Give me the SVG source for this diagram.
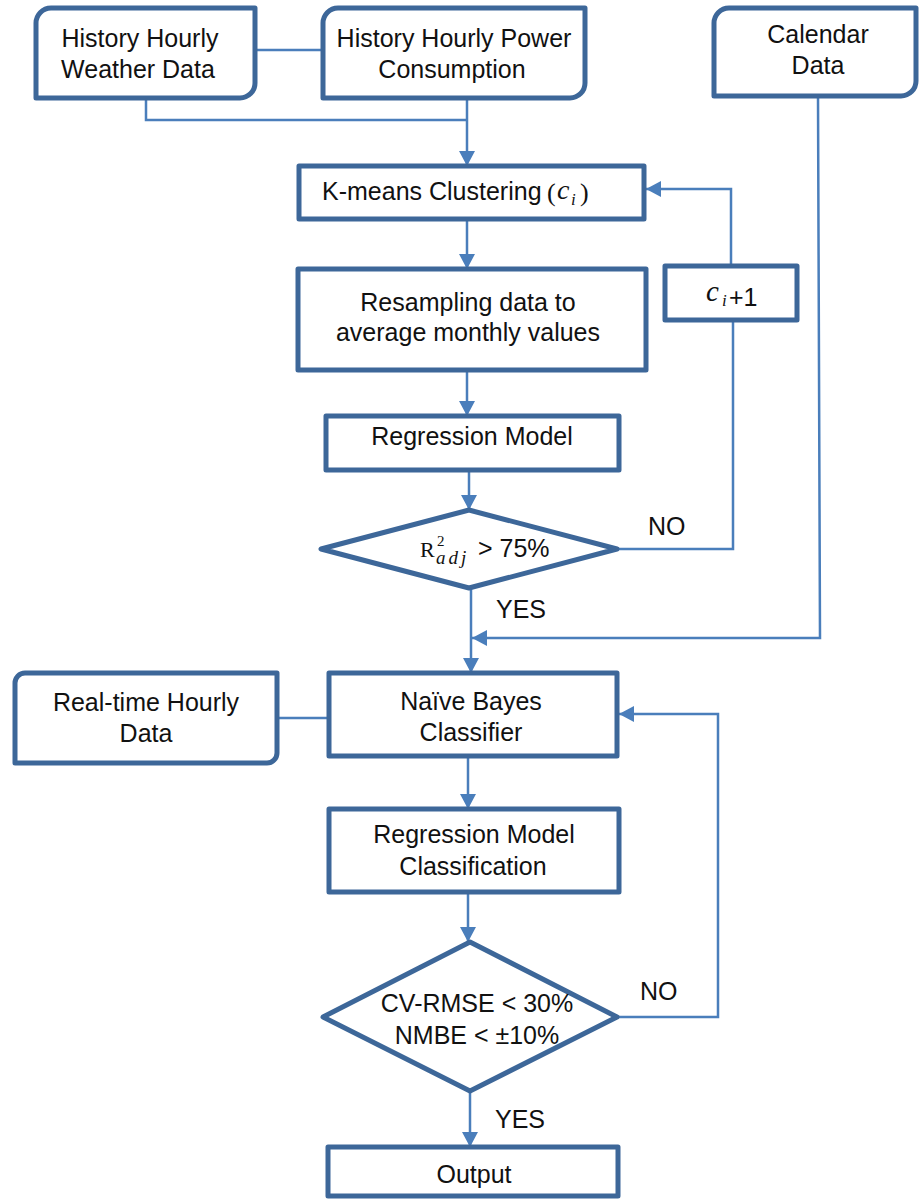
<svg xmlns="http://www.w3.org/2000/svg" width="920" height="1199" viewBox="0 0 920 1199">
<style>
.box{fill:#fff;stroke:#3D6799;stroke-width:5;stroke-linejoin:round}
.conn{fill:none;stroke:#4A7EBB;stroke-width:2.5}
.t{font-family:"Liberation Sans",Arial,sans-serif;font-size:25px;fill:#111;text-anchor:middle}
.l{font-family:"Liberation Sans",Arial,sans-serif;font-size:25px;fill:#111}
.m{font-family:"Liberation Serif","DejaVu Serif",serif;fill:#111}
</style>
<defs>
<marker id="ah" markerUnits="userSpaceOnUse" markerWidth="16" markerHeight="16" refX="15" refY="8" orient="auto">
<path d="M0,0 L15,8 L0,16 Z" fill="#4A7EBB"/>
</marker>
</defs>
<rect width="920" height="1199" fill="#fff"/>
<g id="connectors">
<path class="conn" d="M255 50 H323"/>
<path class="conn" d="M146 98 V120 H467"/>
<path class="conn" d="M467 98 V166" marker-end="url(#ah)"/>
<path class="conn" d="M467 220 V269" marker-end="url(#ah)"/>
<path class="conn" d="M467 370 V416" marker-end="url(#ah)"/>
<path class="conn" d="M469 470 V510" marker-end="url(#ah)"/>
<path class="conn" d="M471 588 V673" marker-end="url(#ah)"/>
<path class="conn" d="M818 96 L820 638 H472" marker-end="url(#ah)"/>
<path class="conn" d="M617 549 H733 V321"/>
<path class="conn" d="M731 266 V189 H646" marker-end="url(#ah)"/>
<path class="conn" d="M277 718 H329"/>
<path class="conn" d="M468 756 V809" marker-end="url(#ah)"/>
<path class="conn" d="M468 892 V942" marker-end="url(#ah)"/>
<path class="conn" d="M617 1017 H718 V714 H619" marker-end="url(#ah)"/>
<path class="conn" d="M470 1091 V1147" marker-end="url(#ah)"/>
</g>
<g id="weather">
<path class="box" d="M51 8 H255 V83 A15 15 0 0 1 240 98 H36 V23 A15 15 0 0 1 51 8 Z"/>
<text class="t" x="140" y="47">History Hourly</text>
<text class="t" x="138" y="78">Weather Data</text>
</g>
<g id="power">
<path class="box" d="M338 8 H585 V83 A15 15 0 0 1 570 98 H323 V23 A15 15 0 0 1 338 8 Z"/>
<text class="t" x="454" y="47">History Hourly Power</text>
<text class="t" x="452" y="78">Consumption</text>
</g>
<g id="calendar">
<path class="box" d="M729 8 H916 V81 A15 15 0 0 1 901 96 H714 V23 A15 15 0 0 1 729 8 Z"/>
<text class="t" x="818" y="43">Calendar</text>
<text class="t" x="818" y="74">Data</text>
</g>
<g id="kmeans">
<rect class="box" x="299" y="166" width="345" height="53"/>
<text class="l" x="322" y="200">K-means Clustering</text>
<text class="m" x="547" y="201" font-size="26">(</text>
<text class="m" x="557" y="199" font-size="28" font-style="italic">c</text>
<text class="m" x="571" y="205" font-size="17" font-style="italic">i</text>
<text class="m" x="580" y="201" font-size="26">)</text>
</g>
<g id="resample">
<rect class="box" x="298" y="269" width="348" height="101"/>
<text class="t" x="468" y="311">Resampling data to</text>
<text class="t" x="468" y="341">average monthly values</text>
</g>
<g id="ci1">
<rect class="box" x="665" y="266" width="132" height="54"/>
<text class="m" x="706" y="301" font-size="29" font-style="italic">c</text>
<text class="m" x="722" y="306" font-size="17" font-style="italic">i</text>
<text class="l" x="729" y="306" font-size="16">+1</text>
</g>
<g id="regression">
<rect class="box" x="326" y="416" width="293" height="54"/>
<text class="t" x="472" y="445">Regression Model</text>
</g>
<g id="decision1">
<path class="box" d="M469 510 L617 549 L469 588 L321 549 Z"/>
<text class="m" x="420" y="557" font-size="22">R</text>
<text class="m" x="437" y="546" font-size="15">2</text>
<text class="m" x="436" y="564" font-size="19" font-style="italic" letter-spacing="3">adj</text>
<text class="l" x="478" y="557">&gt; 75%</text>
</g>
<g id="labels">
<text class="l" x="648" y="535">NO</text>
<text class="l" x="496" y="618">YES</text>
<text class="l" x="640" y="1000">NO</text>
<text class="l" x="495" y="1128">YES</text>
</g>
<g id="realtime">
<path class="box" d="M25 673 H277 V753 A10 10 0 0 1 267 763 H15 V683 A10 10 0 0 1 25 673 Z"/>
<text class="t" x="146" y="711">Real-time Hourly</text>
<text class="t" x="146" y="742">Data</text>
</g>
<g id="bayes">
<rect class="box" x="329" y="673" width="288" height="83"/>
<text class="t" x="471" y="710">Naïve Bayes</text>
<text class="t" x="471" y="741">Classifier</text>
</g>
<g id="rmc">
<rect class="box" x="329" y="809" width="290" height="83"/>
<text class="t" x="474" y="843">Regression Model</text>
<text class="t" x="473" y="875">Classification</text>
</g>
<g id="decision2">
<path class="box" d="M470 942 L617 1017 L470 1091 L323 1017 Z"/>
<text class="t" x="477" y="1012">CV-RMSE &lt; 30%</text>
<text class="t" x="477" y="1044">NMBE &lt; ±10%</text>
</g>
<g id="output">
<rect class="box" x="328" y="1147" width="290" height="49"/>
<text class="t" x="474" y="1183">Output</text>
</g>
</svg>
